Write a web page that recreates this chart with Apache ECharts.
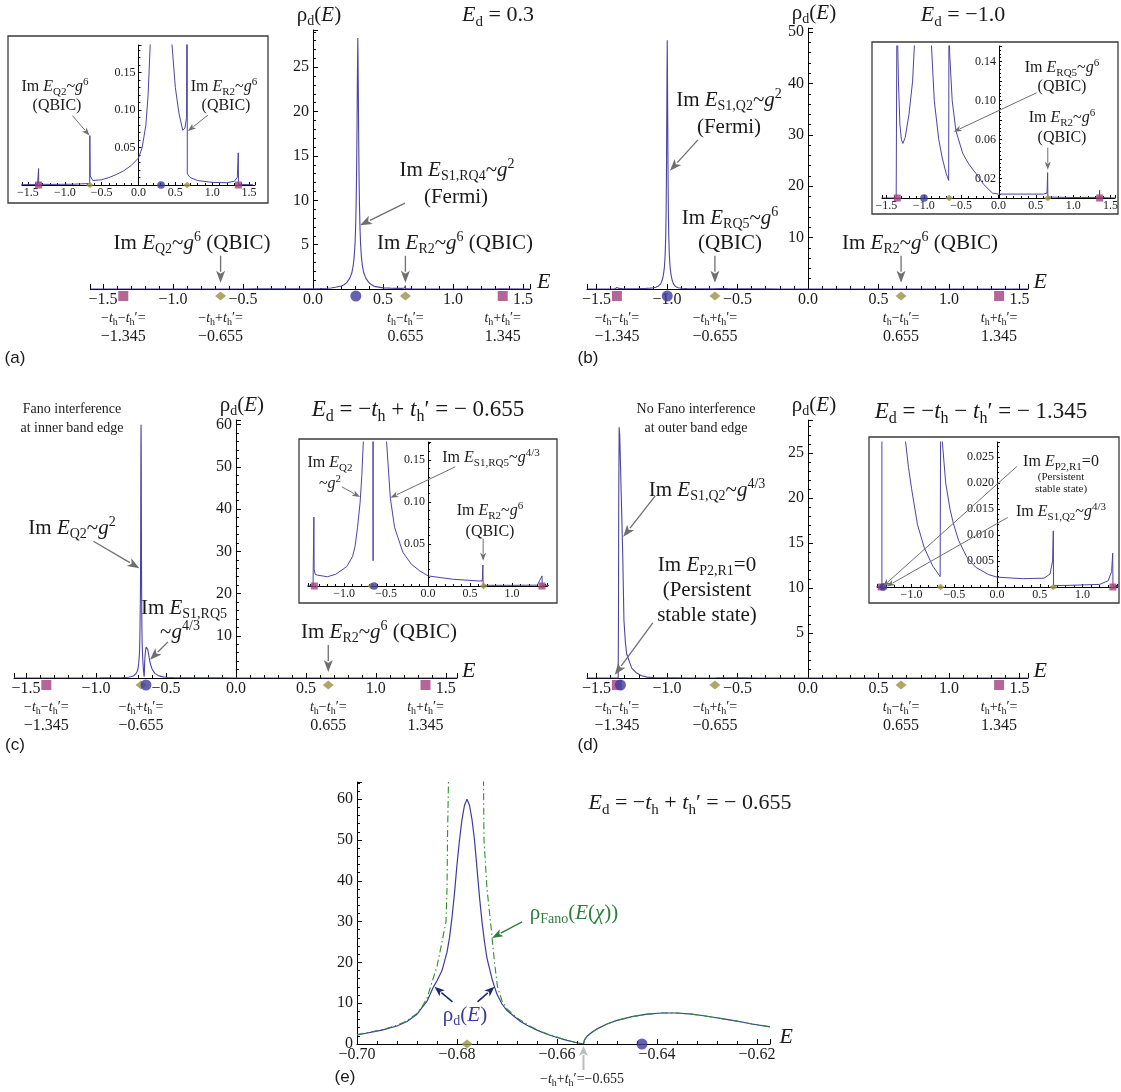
<!DOCTYPE html>
<html><head><meta charset="utf-8">
<script src="https://cdn.jsdelivr.net/npm/echarts@6/dist/echarts.min.js"></script>
<style>html,body{margin:0;padding:0;background:#fff}#c{width:1121px;height:1092px}</style>
</head><body><div id="c"></div>
<script>
// ---------------- DATA ----------------
const squareE = [-1.355, 1.355];
const diamondE = [-0.66, 0.66];
const diamondC = [-0.678, 0.66];
const diamondE_e = [-0.678];
const circleA = [0.306];
const circleB = [-0.998];
const circleC = [-0.643];
const circleD = [-1.33];
const circleE = [-0.643];

const curveA = [[-1.59,0.0005],[-1.37,0.0006],[-1.357,0.001],[-1.355,0.022],[-1.353,0.001],[-1.2,0.0008],[-0.9,0.001],[-0.662,0.002],[-0.66,0.066],[-0.655,0.012],[-0.62,0.006],[-0.6,0.005],[-0.5,0.007],[-0.4,0.01],[-0.3,0.014],[-0.2,0.019],[-0.1,0.026],[0,0.036],[0.05,0.05],[0.1,0.08],[0.13,0.12],[0.16,0.19],[0.202,0.33],[0.222,0.48],[0.242,0.75],[0.262,1.2],[0.277,1.8],[0.287,2.6],[0.294,3.6],[0.3,5],[0.304,6.7],[0.308,9.4],[0.311,12.7],[0.314,17.5],[0.317,23.7],[0.32,28.3],[0.323,23.7],[0.326,17.5],[0.329,12.7],[0.332,9.4],[0.336,6.7],[0.34,5],[0.346,3.6],[0.353,2.6],[0.363,1.8],[0.378,1.2],[0.398,0.75],[0.418,0.48],[0.438,0.3],[0.452,0.19],[0.5,0.13],[0.55,0.095],[0.6,0.073],[0.63,0.076],[0.652,0.09],[0.657,0.3],[0.66,0.4],[0.662,0.015],[0.7,0.01],[0.8,0.006],[1.0,0.0035],[1.2,0.003],[1.3,0.005],[1.34,0.01],[1.353,0.043],[1.356,0.0006],[1.55,0.0005]];

const curveB = [[-1.567,0],[-1.37,0],[-1.357,0.0005],[-1.355,0.3],[-1.35,0.16],[-1.34,0.12],[-1.32,0.075],[-1.3,0.06],[-1.28,0.056],[-1.25,0.062],[-1.2,0.085],[-1.15,0.12],[-1.124,0.16],[-1.1,0.22],[-1.08,0.35],[-1.06,0.6],[-1.045,1.0],[-1.035,1.6],[-1.026,2.6],[-1.019,4],[-1.013,6.5],[-1.009,10],[-1.006,15],[-1.004,21],[-1.002,30],[-1.0,40],[-0.998,48.4],[-0.996,40],[-0.994,30],[-0.992,21],[-0.99,15],[-0.987,10],[-0.983,6.5],[-0.977,4],[-0.97,2.6],[-0.962,1.6],[-0.952,0.9],[-0.94,0.5],[-0.92,0.25],[-0.9,0.16],[-0.86,0.1],[-0.8,0.06],[-0.75,0.04],[-0.7,0.025],[-0.667,0.018],[-0.661,0.02],[-0.659,0.4],[-0.655,0.15],[-0.62,0.1],[-0.57,0.069],[-0.48,0.046],[-0.4,0.035],[-0.3,0.025],[-0.2,0.014],[-0.08,0.005],[0,0.004],[0.3,0.004],[0.6,0.004],[0.65,0.005],[0.658,0.026],[0.661,0.001],[1.0,0.0005],[1.35,0.0006],[1.354,0.008],[1.357,0.0005],[1.567,0]];

const curveC = [[-1.586,0],[-1.37,0],[-1.362,0.002],[-1.36,0.082],[-1.357,0.02],[-1.345,0.014],[-1.32,0.013],[-1.2,0.011],[-1.1,0.014],[-0.97,0.023],[-0.9,0.035],[-0.87,0.047],[-0.84,0.07],[-0.81,0.099],[-0.79,0.13],[-0.77,0.175],[-0.75,0.3],[-0.73,0.55],[-0.715,1.0],[-0.705,1.6],[-0.70,2.2],[-0.695,3.4],[-0.69,5.5],[-0.688,7.3],[-0.686,10.5],[-0.6847,14],[-0.684,15.5],[-0.683,18],[-0.682,22.5],[-0.6815,26],[-0.681,31],[-0.6805,37],[-0.68,44],[-0.6795,50],[-0.679,55],[-0.6785,58.5],[-0.678,60],[-0.6775,58.5],[-0.677,55],[-0.6765,50],[-0.676,43],[-0.6755,36],[-0.675,30],[-0.6745,25],[-0.674,21],[-0.673,16],[-0.6725,14],[-0.672,12.2],[-0.671,9.8],[-0.67,8.2],[-0.668,6.2],[-0.666,4.6],[-0.664,3.4],[-0.662,2.4],[-0.66,1.6],[-0.658,0.9],[-0.656,0.3],[-0.655,0.03],[-0.6545,1.0],[-0.654,1.9],[-0.652,3.7],[-0.65,4.9],[-0.648,5.8],[-0.645,6.7],[-0.642,7.3],[-0.639,7.6],[-0.636,7.6],[-0.63,6.8],[-0.624,5.6],[-0.617,4.2],[-0.61,3.2],[-0.6,2.2],[-0.58,1.1],[-0.55,0.5],[-0.52,0.26],[-0.5,0.18],[-0.45,0.105],[-0.4,0.07],[-0.3,0.04],[-0.2,0.026],[-0.1,0.018],[0,0.012],[0.3,0.008],[0.6,0.006],[0.645,0.006],[0.652,0.025],[0.655,0.0008],[1.0,0.0008],[1.3,0.001],[1.356,0.012],[1.358,0.0008],[1.58,0]];

const curveD = [[-1.567,0],[-1.38,0],[-1.346,0.0003],[-1.344,6],[-1.342,20],[-1.339,27.9],[-1.335,27],[-1.33,24],[-1.322,19],[-1.314,13.9],[-1.305,6.4],[-1.295,4],[-1.286,2.7],[-1.25,1.1],[-1.215,0.55],[-1.18,0.25],[-1.14,0.1],[-1.1,0.045],[-1.07,0.028],[-1.035,0.023],[-1.0,0.019],[-0.93,0.012],[-0.85,0.0075],[-0.75,0.004],[-0.665,0.002],[-0.662,0.002],[-0.66,0.03],[-0.64,0.028],[-0.6,0.02],[-0.55,0.015],[-0.51,0.0122],[-0.45,0.009],[-0.355,0.0058],[-0.25,0.0038],[-0.1,0.0024],[0,0.0019],[0.3,0.0016],[0.55,0.0017],[0.62,0.0025],[0.65,0.005],[0.658,0.0108],[0.661,0.0003],[0.8,0.0003],[1.2,0.0005],[1.3,0.0012],[1.34,0.003],[1.353,0.0065],[1.356,0.0002],[1.567,0]];

const curveE = [[-0.70,2.2],[-0.695,3.4],[-0.692,4.4],[-0.69,5.5],[-0.688,7.3],[-0.686,10.5],[-0.6847,14],[-0.684,15.5],[-0.683,18],[-0.682,22.5],[-0.6815,26],[-0.681,31],[-0.6805,37],[-0.68,44],[-0.6795,50],[-0.679,55],[-0.6785,58.5],[-0.678,60],[-0.6775,58.5],[-0.677,55],[-0.6765,50],[-0.676,43],[-0.6755,36],[-0.675,30],[-0.6745,25],[-0.674,21],[-0.673,16],[-0.6725,14],[-0.672,12.2],[-0.671,9.8],[-0.67,8.2],[-0.668,6.2],[-0.6673,5.5],[-0.666,4.6],[-0.664,3.4],[-0.662,2.4],[-0.66,1.6],[-0.658,0.9],[-0.656,0.3],[-0.6547,0],[-0.6545,1.0],[-0.654,1.9],[-0.653,2.9],[-0.652,3.7],[-0.65,4.9],[-0.648,5.8],[-0.645,6.7],[-0.642,7.3],[-0.639,7.6],[-0.636,7.6],[-0.633,7.3],[-0.63,6.8],[-0.627,6.2],[-0.624,5.6],[-0.621,4.9],[-0.6174,4.2]];

const fanoLeft = [[-0.70,2.3],[-0.695,3.5],[-0.692,4.6],[-0.69,5.7],[-0.688,7.5],[-0.687,9.1],[-0.686,11.2],[-0.6853,14],[-0.684,19],[-0.683,25],[-0.6822,30],[-0.682,38],[-0.6819,50],[-0.6817,65]];
const fanoRight = [[-0.6747,65],[-0.6746,50],[-0.674,38],[-0.6733,30],[-0.6725,20],[-0.6719,14],[-0.671,10.6],[-0.67,8.6],[-0.668,6.4],[-0.666,4.8],[-0.664,3.5],[-0.662,2.5],[-0.66,1.7],[-0.658,0.9],[-0.656,0.3],[-0.6547,0],[-0.6545,1.0],[-0.654,1.9],[-0.653,2.9],[-0.652,3.7],[-0.65,4.9],[-0.648,5.8],[-0.645,6.7],[-0.642,7.3],[-0.639,7.6],[-0.636,7.6],[-0.633,7.3],[-0.63,6.8],[-0.627,6.2],[-0.624,5.6],[-0.621,4.9],[-0.6174,4.25]];

const edgeLine1 = ['−*t*_{h}−*t*_{h}′=', '−*t*_{h}+*t*_{h}′=', '*t*_{h}−*t*_{h}′=', '*t*_{h}+*t*_{h}′='];
const edgeLine2 = ['−1.345', '−0.655', '0.655', '1.345'];

// ---------------- STYLE ----------------
const SERIF = '"Liberation Serif","DejaVu Serif",serif';
const SANS = '"Liberation Sans","DejaVu Sans",sans-serif';
const LINE = '#4d43a3', SQ = '#a3407c', DI = '#9b9143', CI = '#3d3a9c', ARR = '#6f6f6f', TXT = '#1a1a1a';

const chart = echarts.init(document.getElementById('c'), null, {renderer: 'canvas'});

const G = [
  {l:90.4, t:30, w:439.6, h:259, xmin:-1.59, xmax:1.55, ymax:29.2, yi:5, xs:0.5, main:true},      // a
  {l:22, t:45, w:233, h:140, xmin:-1.58, xmax:1.58, ymax:0.187, yi:0.05, xs:0.5, dec:2},           // a inset
  {l:587, t:28, w:441, h:261, xmin:-1.567, xmax:1.56, ymax:50.8, yi:10, xs:0.5, main:true},        // b
  {l:882, t:46, w:234, h:152, xmin:-1.56, xmax:1.56, ymax:0.156, yi:0.02, xs:0.5, dec:2, skip:true},// b inset
  {l:14, t:420, w:443, h:258, xmin:-1.586, xmax:1.58, ymax:61.1, yi:10, xs:0.5, main:true},        // c
  {l:308, t:442, w:239.4, h:144, xmin:-1.43, xmax:1.42, ymax:0.1714, yi:0.05, xs:0.5, dec:2},      // c inset
  {l:587, t:420, w:441, h:258, xmin:-1.567, xmax:1.56, ymax:28.7, yi:5, xs:0.5, main:true},        // d
  {l:877.3, t:442, w:240.3, h:145, xmin:-1.40, xmax:1.41, ymax:0.0279, yi:0.005, xs:0.5, dec:3},   // d inset
  {l:357, t:782, w:413, h:262, xmin:-0.70, xmax:-0.6174, ymax:64.2, yi:10, xs:0.02, main:true, e:true} // e
];

function isMult(v, s){ const k = v/s; return Math.abs(k-Math.round(k)) < 1e-6; }
function fmtSigned(v, d){ return (v < -1e-9 ? '−' : '') + Math.abs(v).toFixed(d); }

const grids = [], xAxes = [], yAxes = [];
G.forEach((g, i) => {
  const inset = !g.main;
  const fs = inset ? 12 : 16;
  const yOff = (g.xmin < 0 && g.xmax > 0) ? -(0 - g.xmin) / (g.xmax - g.xmin) * g.w : 0;
  grids.push({left:g.l, top:g.t, width:g.w, height:g.h, containLabel:false});
  xAxes.push({
    type:'value', gridIndex:i, min:g.xmin, max:g.xmax, minInterval:g.xs, maxInterval:g.xs, position:'bottom',
    axisLine:{onZero:false, lineStyle:{color:'#000', width:1}},
    axisTick:{inside:true, length:inset?3:5, lineStyle:{color:'#000'}},
    minorTick:{show:true, splitNumber:5, length:inset?2:3, lineStyle:{color:'#000'}},
    splitLine:{show:false},
    axisLabel:{margin:inset?2:3, fontFamily:SERIF, fontSize:fs, color:TXT,
      formatter: v => isMult(v, g.xs) ? fmtSigned(v, g.e ? 2 : 1) : ''},
    name: (g.main ? 'E' : ''), nameLocation:'end', nameGap:5,
    nameTextStyle:{fontFamily:SERIF, fontStyle:'italic', fontSize:22, color:TXT, verticalAlign:'bottom', padding:[0,0,-4,0]}
  });
  yAxes.push({
    type:'value', gridIndex:i, min:0, max:g.ymax, interval:g.yi, position:'left', offset:yOff,
    axisLine:{onZero:false, lineStyle:{color:'#000', width:1}},
    axisTick:{inside:true, length:inset?3:5, lineStyle:{color:'#000'}},
    minorTick:{show:true, splitNumber:5, length:inset?2:3, lineStyle:{color:'#000'}},
    splitLine:{show:false},
    axisLabel:{margin:inset?3:4, fontFamily:SERIF, fontSize:fs, color:TXT,
      formatter: v => {
        if (!isMult(v, g.yi)) return '';
        if (Math.abs(v) < 1e-12) return g.e ? '0' : '';
        if (g.skip && Math.round(v*100) % 4 !== 2) return '';
        return g.dec ? v.toFixed(g.dec) : String(Math.round(v));
      }}
  });
});

function line(gi, data, extra) {
  return Object.assign({type:'line', xAxisIndex:gi, yAxisIndex:gi, data, showSymbol:false, symbol:'none', clip:true,
    lineStyle:{color:LINE, width:1.1}, animation:false, silent:true, z:3}, extra || {});
}
function marks(gi, xs, symbol, color, size, off) {
  return {type:'scatter', xAxisIndex:gi, yAxisIndex:gi, data:xs.map(x => [x, 0]), symbol, symbolSize:size,
    symbolOffset:[0, off], itemStyle:{color}, clip:false, silent:true, animation:false, z:6};
}
function markSet(gi, circ, diam, main) {
  const o = main ? 7 : 0, s = main ? 1 : 0.7;
  return [
    marks(gi, squareE, 'rect', SQ, [10*s, 10*s], o),
    marks(gi, diam, 'diamond', DI, [11*s, 9*s], o),
    marks(gi, circ, 'circle', CI, 11*s, o)
  ];
}

const series = [
  line(0, curveA), line(1, curveA, {lineStyle:{color:LINE, width:1}}),
  line(2, curveB), line(3, curveB, {lineStyle:{color:LINE, width:1}}),
  line(4, curveC), line(5, curveC, {lineStyle:{color:LINE, width:1}}),
  line(6, curveD), line(7, curveD, {lineStyle:{color:LINE, width:1}}),
  line(8, fanoLeft, {lineStyle:{color:'#2f8f2f', width:1.1, type:[7,3,1.5,3]}, z:4}),
  line(8, fanoRight, {lineStyle:{color:'#2f8f2f', width:1.1, type:[7,3,1.5,3]}, z:4}),
  line(8, curveE, {lineStyle:{color:'#3b3b9e', width:1.2}}),
  ...markSet(0, circleA, diamondE, true), ...markSet(1, circleA, diamondE, false),
  ...markSet(2, circleB, diamondE, true), ...markSet(3, circleB, diamondE, false),
  ...markSet(4, circleC, diamondC, true), ...markSet(5, circleC, diamondC, false),
  ...markSet(6, circleD, diamondE, true), ...markSet(7, circleD, diamondE, false),
  marks(8, diamondE_e, 'diamond', DI, [11, 9], 0), marks(8, circleE, 'circle', CI, 11, 0)
];

chart.setOption({animation:false, backgroundColor:'#fff', grid:grids, xAxis:xAxes, yAxis:yAxes, series});

// ---------------- ANNOTATIONS ----------------
function T(s){
  let out = '', buf = '', mode = 'r';
  const flush = () => { if (buf) { out += '{' + mode + '|' + buf + '}'; buf = ''; } };
  for (let i = 0; i < s.length; i++) {
    const c = s[i];
    if (c === '*') { flush(); mode = (mode === 'i' ? 'r' : 'i'); continue; }
    if ((c === '_' || c === '^') && s[i+1] === '{') {
      flush(); const j = s.indexOf('}', i+2);
      out += '{' + (c === '_' ? 'sb' : 'sp') + '|' + s.slice(i+2, j) + '}'; i = j; continue;
    }
    buf += c;
  }
  flush(); return out;
}
function R(fs, fam){
  fam = fam || SERIF;
  const s = Math.round(fs*0.68), lh = Math.round(fs*1.25), d = Math.round(fs*0.3);
  return {
    r:{fontFamily:fam, fontSize:fs, lineHeight:lh},
    i:{fontFamily:fam, fontSize:fs, fontStyle:'italic', lineHeight:lh},
    sb:{fontFamily:fam, fontSize:s, lineHeight:lh, padding:[2*d,0,0,0]},
    sp:{fontFamily:fam, fontSize:s, lineHeight:lh, padding:[0,0,2*d,0]}
  };
}
function txt(x, y, s, fs, color, fam){
  return {type:'text', x, y, silent:true, z:100,
    style:{text:T(s), rich:R(fs, fam), fill:color || TXT, align:'center', verticalAlign:'middle', fontSize:fs, fontFamily:fam || SERIF}};
}
function px(gi, x, y){ return chart.convertToPixel({gridIndex:gi}, [x, y]); }
function arrow(gi, tip, dx, dy, color, w, hl, hw){
  const p = px(gi, tip[0], tip[1]);
  const x2 = p[0], y2 = p[1], x1 = x2 + dx, y1 = y2 + dy;
  const L = Math.hypot(x2-x1, y2-y1), ux = (x2-x1)/L, uy = (y2-y1)/L;
  const bx = x2 - ux*hl, by = y2 - uy*hl;
  return [
    {type:'line', silent:true, z:90, shape:{x1, y1, x2:bx+ux*1, y2:by+uy*1}, style:{stroke:color, lineWidth:w}},
    {type:'polygon', silent:true, z:90, shape:{points:[[x2,y2],[bx-uy*hw, by+ux*hw],[bx+ux*hl*0.25, by+uy*hl*0.25],[bx+uy*hw, by-ux*hw]]}, style:{fill:color}}
  ];
}
const bigArrow = (gi, tip, dx, dy) => arrow(gi, tip, dx, dy, ARR, 1.3, 12, 4.5);
const smallArrow = (gi, tip, dx, dy) => arrow(gi, tip, dx, dy, ARR, 1, 8, 3);

const gfx = [];
[[8,36,260,167],[872,42,246,172],[299,439,258,164],[869,437,250,166]].forEach(b => {
  gfx.push({type:'rect', silent:true, z:1, shape:{x:b[0], y:b[1], width:b[2], height:b[3]}, style:{fill:'none', stroke:'#3a3a3a', lineWidth:1.3}});
});
[0,2,4,6].forEach(gi => {
  const p = px(gi, 0, G[gi].ymax);
  gfx.push(txt(p[0]+6, p[1]-15, 'ρ_{d}(*E*)', 21));
});
function edgeLabels(gi, xs){
  xs.forEach((x, k) => {
    const p = px(gi, x, 0);
    gfx.push(txt(p[0], p[1]+29, edgeLine1[k], 14));
    gfx.push(txt(p[0], p[1]+48, edgeLine2[k], 16));
  });
}
edgeLabels(0, [squareE[0], diamondE[0], diamondE[1], squareE[1]]);
edgeLabels(2, [squareE[0], diamondE[0], diamondE[1], squareE[1]]);
edgeLabels(4, [squareE[0], diamondC[0], diamondC[1], squareE[1]]);
edgeLabels(6, [squareE[0], diamondE[0], diamondE[1], squareE[1]]);

gfx.push(txt(15,358,'(a)',17,TXT,SANS), txt(588,358,'(b)',17,TXT,SANS), txt(15,745,'(c)',17,TXT,SANS), txt(588,745,'(d)',17,TXT,SANS), txt(345,1077,'(e)',17,TXT,SANS));

// (a)
gfx.push(txt(498,15,'*E*_{d} = 0.3',22));
gfx.push(txt(457,170,'Im *E*_{S1,RQ4}~*g*^{2}',21), txt(456,197,'(Fermi)',21));
gfx.push(...bigArrow(0,[0.336,7.2],45,-22));
gfx.push(txt(192,243,'Im *E*_{Q2}~*g*^{6} (QBIC)',21));
gfx.push(...bigArrow(0,[-0.66,0.7],0,-27));
gfx.push(txt(455,243,'Im *E*_{R2}~*g*^{6} (QBIC)',21));
gfx.push(...bigArrow(0,[0.66,0.7],0,-27));
gfx.push(txt(55,87,'Im *E*_{Q2}~*g*^{6}',16), txt(57,106,'(QBIC)',16));
gfx.push(...smallArrow(1,[-0.665,0.066],-17,-20));
gfx.push(txt(224,87,'Im *E*_{R2}~*g*^{6}',16), txt(226,106,'(QBIC)',16));
gfx.push(...smallArrow(1,[0.67,0.072],20,-16));

// (b)
gfx.push(txt(963,15,'*E*_{d} = −1.0',22));
gfx.push(txt(729,100,'Im *E*_{S1,Q2}~*g*^{2}',21), txt(729,127,'(Fermi)',21));
gfx.push(...bigArrow(2,[-0.979,23],28,-31));
gfx.push(txt(730,218,'Im *E*_{RQ5}~*g*^{6}',21), txt(730,243,'(QBIC)',21));
gfx.push(...bigArrow(2,[-0.66,1.2],0,-27));
gfx.push(txt(920,243,'Im *E*_{R2}~*g*^{6} (QBIC)',21));
gfx.push(...bigArrow(2,[0.66,1.2],0,-27));
gfx.push(txt(1062,68,'Im *E*_{RQ5}~*g*^{6}',16), txt(1062,87,'(QBIC)',16));
gfx.push(...smallArrow(3,[-0.6,0.068],83,-39));
gfx.push(txt(1062,118,'Im *E*_{R2}~*g*^{6}',16), txt(1062,138,'(QBIC)',16));
gfx.push(...smallArrow(3,[0.66,0.029],0,-22));

// (c)
gfx.push(txt(72,409,'Fano interference',14), txt(72,428,'at inner band edge',14));
gfx.push(txt(418,410,'*E*_{d} = −*t*_{h} + *t*_{h}′ = − 0.655',23));
gfx.push(txt(72,528,'Im *E*_{Q2}~*g*^{2}',21));
gfx.push(...bigArrow(4,[-0.69,26],-46,-27));
gfx.push(txt(184,608,'Im *E*_{S1,RQ5}',21), txt(180,632,'~*g*^{4/3}',21));
gfx.push(...bigArrow(4,[-0.614,4.3],18,-18));
gfx.push(txt(379,632,'Im *E*_{R2}~*g*^{6} (QBIC)',21));
gfx.push(...bigArrow(4,[0.66,1.4],0,-27));
gfx.push(txt(330,463,'Im *E*_{Q2}',16), txt(330,484,'~*g*^{2}',16));
gfx.push(...smallArrow(5,[-0.81,0.106],-18,-10));
gfx.push(txt(491,458,'Im *E*_{S1,RQ5}~*g*^{4/3}',16));
gfx.push(...smallArrow(5,[-0.45,0.105],65,-31));
gfx.push(txt(490,511,'Im *E*_{R2}~*g*^{6}',16), txt(490,532,'(QBIC)',16));
gfx.push(...smallArrow(5,[0.655,0.03],0,-22));

// (d)
gfx.push(txt(696,409,'No Fano interference',14), txt(696,428,'at outer band edge',14));
gfx.push(txt(981,412,'*E*_{d} = −*t*_{h} − *t*_{h}′ = − 1.345',23));
gfx.push(txt(707,490,'Im *E*_{S1,Q2}~*g*^{4/3}',21));
gfx.push(...bigArrow(6,[-1.31,15.7],32,-41));
gfx.push(txt(707,565,'Im *E*_{P2,R1}=0',21), txt(707,590,'(Persistent',21), txt(707,615,'stable state)',21));
gfx.push(...bigArrow(6,[-1.37,0.35],38,-52));
gfx.push(txt(1061,462,'Im *E*_{P2,R1}=0',16), txt(1061,477,'(Persistent',11), txt(1061,489,'stable state)',11));
gfx.push(...smallArrow(7,[-1.335,0.0001],134,-120));
gfx.push(txt(1061,512,'Im *E*_{S1,Q2}~*g*^{4/3}',16));
gfx.push(...smallArrow(7,[-1.29,0.0001],121,-69));

// (e)
gfx.push(txt(690,803,'*E*_{d} = −*t*_{h} + *t*_{h}′ = − 0.655',22));
gfx.push(txt(574,913,'ρ_{Fano}(*E*(*χ*))',21,'#2c7f3a'));
gfx.push(...arrow(8,[-0.673,26],30,-16,'#2c7f3a',1.3,11,4));
gfx.push(txt(465,1015,'ρ_{d}(*E*)',21,'#3a3a9a'));
gfx.push(...arrow(8,[-0.6845,14],18,15,'#1d2a6e',1.5,10,4));
gfx.push(...arrow(8,[-0.6725,14],-17,15,'#1d2a6e',1.5,10,4));
gfx.push(...arrow(8,[-0.6547,-0.5],0,24,'#bdbdbd',2,10,4.5));
gfx.push(txt(582,1079,'−*t*_{h}+*t*_{h}′=−0.655',14));

chart.setOption({graphic:{elements:gfx}});
</script>
</body></html>
